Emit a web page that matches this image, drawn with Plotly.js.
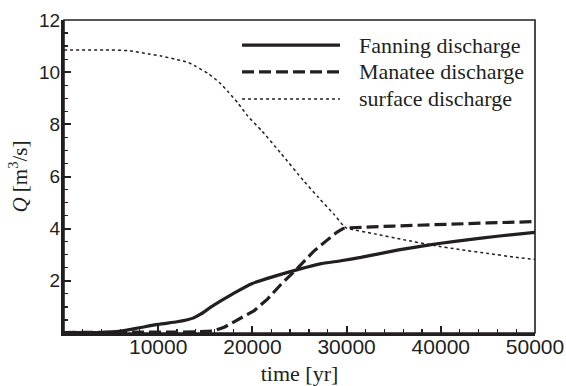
<!DOCTYPE html>
<html>
<head>
<meta charset="utf-8">
<script src="https://cdn.plot.ly/plotly-3.0.1.min.js"></script>
<style>html,body{margin:0;padding:0;background:#fff;}#chart{width:566px;height:386px;}</style>
</head>
<body>
<div id="chart"></div>
<script>
// ---- data (time in yr, discharge in m^3/s) ----
const fanningTime = [0, 4000, 6000, 8000, 10000, 12000, 13000, 13700, 14500, 15500, 16600, 18000, 20000, 22300, 24800, 27200, 29400, 31500, 35000, 38000, 40000, 43000, 46000, 50000];
const fanningQ    = [0.02, 0.02, 0.07, 0.2, 0.33, 0.43, 0.5, 0.57, 0.72, 0.97, 1.22, 1.52, 1.9, 2.17, 2.43, 2.65, 2.77, 2.9, 3.15, 3.33, 3.44, 3.58, 3.71, 3.86];

const manateeTime = [0, 10000, 14000, 15900, 17000, 18000, 19000, 20200, 21600, 23000, 24800, 26500, 28000, 29000, 29600, 30000, 35000, 40000, 45000, 50000];
const manateeQ    = [0.02, 0.03, 0.04, 0.08, 0.22, 0.42, 0.62, 0.86, 1.3, 1.85, 2.49, 3.13, 3.58, 3.87, 4.0, 4.03, 4.1, 4.17, 4.22, 4.27];

const surfaceTime = [0, 5000, 7000, 9000, 10300, 12000, 13200, 14000, 15300, 16500, 17400, 18500, 19500, 21000, 23000, 25500, 27000, 28650, 29700, 30000, 33000, 36000, 39200, 42000, 45000, 48000, 50000];
const surfaceQ    = [10.85, 10.85, 10.82, 10.7, 10.62, 10.48, 10.37, 10.22, 9.95, 9.6, 9.26, 8.8, 8.32, 7.75, 6.9, 5.81, 5.2, 4.55, 4.1, 4.02, 3.8, 3.58, 3.36, 3.2, 3.05, 2.9, 2.82];

const seriesNames = ['Fanning discharge', 'Manatee discharge', 'surface discharge'];
const xTickVals = [10000, 20000, 30000, 40000, 50000];
const xTickText = ['10000', '20000', '30000', '40000', '50000'];
const yTickVals = [2, 4, 6, 8, 10, 12];
const yTickText = ['2', '4', '6', '8', '10', '12'];

// ---- styling ----
const ink = '#231f20';
const sans = 'Liberation Sans, Arial, sans-serif';
const serif = 'Liberation Serif, Times New Roman, serif';
const lineStyles = [
  {color: ink, width: 3.2, dash: 'solid', shape: 'spline', smoothing: 0.6},
  {color: ink, width: 3.2, dash: '12px,5px', shape: 'linear'},
  {color: ink, width: 1.5, dash: '3px,3px', shape: 'spline', smoothing: 0.5}
];

const traces = [
  {x: fanningTime, y: fanningQ, name: seriesNames[0], mode: 'lines', line: lineStyles[0]},
  {x: manateeTime, y: manateeQ, name: seriesNames[1], mode: 'lines', line: lineStyles[1]},
  {x: surfaceTime, y: surfaceQ, name: seriesNames[2], mode: 'lines', line: lineStyles[2]}
];

// manual legend (long line samples like the original)
const legendY = [0.92, 0.834, 0.748];
const shapes = [{
  type: 'rect', xref: 'paper', yref: 'paper', x0: 0, x1: 1, y0: 0, y1: 1,
  line: {color: ink, width: 1.6}, layer: 'above'
}];
const annotations = [];
seriesNames.forEach((n, i) => {
  shapes.push({type: 'line', xref: 'paper', yref: 'paper', x0: 0.378, x1: 0.586, y0: legendY[i], y1: legendY[i],
    line: {color: lineStyles[i].color, width: lineStyles[i].width, dash: lineStyles[i].dash}});
  annotations.push({xref: 'paper', yref: 'paper', x: 0.622, y: legendY[i], xanchor: 'left', yanchor: 'middle',
    text: n, showarrow: false, font: {family: serif, size: 22, color: ink}});
});

const layout = {
  width: 566, height: 386,
  margin: {l: 64, r: 31, t: 20, b: 53},
  paper_bgcolor: '#fff', plot_bgcolor: '#fff',
  showlegend: false,
  xaxis: {
    range: [0, 50000], tickmode: 'array', tickvals: xTickVals, ticktext: xTickText,
    ticks: 'inside', ticklen: 7, tickwidth: 2, tickcolor: ink,
    minor: {dtick: 2000, tick0: 0, ticks: 'inside', ticklen: 4, tickwidth: 1.2, tickcolor: ink},
    showline: true, linewidth: 3, linecolor: ink, showgrid: false, zeroline: false,
    tickfont: {family: sans, size: 21, color: ink},
    ticklabelstandoff: -7,
    title: {text: 'time [yr]', font: {family: serif, size: 22, color: ink}, standoff: 11}
  },
  yaxis: {
    range: [0, 12], tickmode: 'array', tickvals: yTickVals, ticktext: yTickText,
    ticks: 'inside', ticklen: 7, tickwidth: 2, tickcolor: ink,
    minor: {dtick: 0.5, tick0: 0, ticks: 'inside', ticklen: 4, tickwidth: 1.2, tickcolor: ink},
    showline: true, linewidth: 3, linecolor: ink, showgrid: false, zeroline: false,
    tickfont: {family: sans, size: 19, color: ink},
    ticklabelstandoff: -3,
    title: {text: '<i>Q</i> [m<sup>3</sup>/s]', font: {family: serif, size: 21, color: ink}, standoff: 6}
  },
  shapes: shapes,
  annotations: annotations
};

Plotly.newPlot('chart', traces, layout, {displayModeBar: false, staticPlot: true});
</script>
</body>
</html>
